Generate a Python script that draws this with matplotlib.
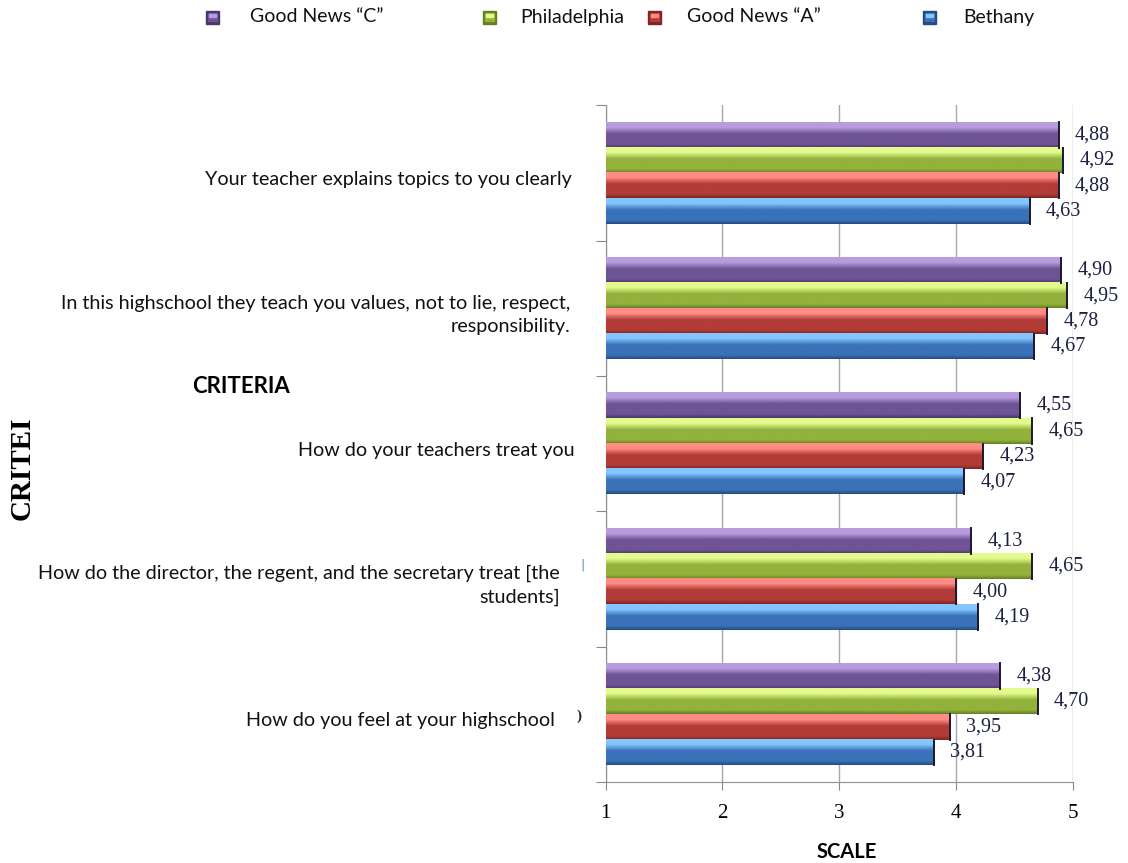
import matplotlib.pyplot as plt
import numpy as np
from matplotlib.colors import LinearSegmentedColormap
from matplotlib.patches import Rectangle

# criteria, bottom to top
criteria = [
    "How do you feel at your highschool",
    "How do the director, the regent, and the secretary treat [the\nstudents]",
    "How do your teachers treat you",
    "In this highschool they teach you values, not to lie, respect,\nresponsibility.",
    "Your teacher explains topics to you clearly",
]
schools = ["Good News \u201cC\u201d", "Philadelphia", "Good News \u201cA\u201d", "Bethany"]

good_news_c = [4.38, 4.13, 4.55, 4.90, 4.88]
philadelphia = [4.70, 4.65, 4.65, 4.95, 4.92]
good_news_a = [3.95, 4.00, 4.23, 4.78, 4.88]
bethany = [3.81, 4.19, 4.07, 4.67, 4.63]
series = [good_news_c, philadelphia, good_news_a, bethany]

x_ticks = [1, 2, 3, 4, 5]

# dark / mid / light shades for the bevelled bars
shades = [
    ("#4a3668", "#6e5494", "#b89ce0"),
    ("#647f22", "#92b23c", "#e4fb8e"),
    ("#7e2422", "#b23c38", "#ff8d86"),
    ("#244a82", "#3a72b8", "#84c6ff"),
]

fig = plt.figure(figsize=(11.28, 8.63), dpi=100)
ax = fig.add_axes([0.537, 0.094, 0.414, 0.784])

n_cat = len(criteria)
group = 0.75
h = group / len(series)
grad = np.linspace(0, 1, 64)[:, None]

for i, (vals, (dark, mid, light)) in enumerate(zip(series, shades)):
    cmap = LinearSegmentedColormap.from_list(
        "bevel", [(0, dark), (0.15, mid), (0.55, mid), (0.8, light), (1, light)])
    for c, v in enumerate(vals):
        yc = c + group / 2 - h / 2 - i * h
        ax.imshow(grad, cmap=cmap, aspect="auto", origin="lower",
                  extent=(1, v, yc - h / 2, yc + h / 2), zorder=3)
        ax.plot([v, v], [yc - h / 2, yc + h / 2], color="#1e1830", lw=1.4, zorder=4)
        ax.text(v + 0.14, yc, f"{v:.2f}".replace(".", ","), ha="left", va="center",
                family="Liberation Serif", fontsize=14.5, color="#1c2040", zorder=5)

ax.set_xlim(1, 5)
ax.set_ylim(-0.5, n_cat - 0.5)
ax.set_xticks(x_ticks)
ax.set_xticklabels([str(t) for t in x_ticks], family="Liberation Serif", fontsize=15)
ax.tick_params(axis="x", length=6, color="#888888", pad=10)
ax.set_yticks(np.arange(-0.5, n_cat, 1))
ax.set_yticklabels([])
ax.tick_params(axis="y", length=7, color="#888888")
ax.grid(axis="x", color="#a8a8a8", lw=1, zorder=1)
for s in ["top", "right"]:
    ax.spines[s].set_visible(False)
for s in ["left", "bottom"]:
    ax.spines[s].set_color("#909090")

# right edge of each criterion label, as a fraction of the axes width
label_right = [-0.109, -0.098, -0.067, -0.075, -0.073]
for c, label in enumerate(criteria):
    ax.text(label_right[c], c - 0.05, label, transform=ax.get_yaxis_transform(),
            ha="right", va="center", multialignment="right", linespacing=1.45,
            family="Lato", fontsize=14.2, color="#111111")

# legend row
leg_x = [206, 483, 648, 923]
txt_x = [250, 520, 687, 963]
for (dark, mid, light), lx, tx, name in zip(shades, leg_x, txt_x, schools):
    fig.add_artist(Rectangle((lx / 1128, 1 - 24 / 863), 13 / 1128, 13 / 863,
                             transform=fig.transFigure, color=dark))
    fig.add_artist(Rectangle(((lx + 2) / 1128, 1 - 21 / 863), 9 / 1128, 8 / 863,
                             transform=fig.transFigure, color=mid))
    fig.add_artist(Rectangle(((lx + 3) / 1128, 1 - 17 / 863), 7 / 1128, 3 / 863,
                             transform=fig.transFigure, color=light))
    fig.text(tx / 1128, 1 - 17 / 863, name, ha="left", va="center",
             family="Lato", fontsize=14, color="#111111")

fig.text(241 / 1128, 1 - 386 / 863, "CRITERIA", ha="center", va="center",
         family="Lato", fontweight="bold", fontsize=16)
fig.text(847 / 1128, 1 - 852 / 863, "SCALE", ha="center", va="center",
         family="Lato", fontweight="bold", fontsize=14.5)
fig.text(22 / 1128, 1 - 468 / 863, "CRITEI", ha="center", va="center", rotation=90,
         family="Liberation Serif", fontweight="bold", fontsize=21)
fig.text(582 / 1128, 1 - 565 / 863, "|", ha="center", va="center",
         fontsize=9, color="#4a8ad0")
fig.text(579 / 1128, 1 - 716 / 863, ")", ha="center", va="center",
         family="Liberation Serif", fontsize=11, fontweight="bold", color="#222222")

fig.savefig("out.png", dpi=100)
